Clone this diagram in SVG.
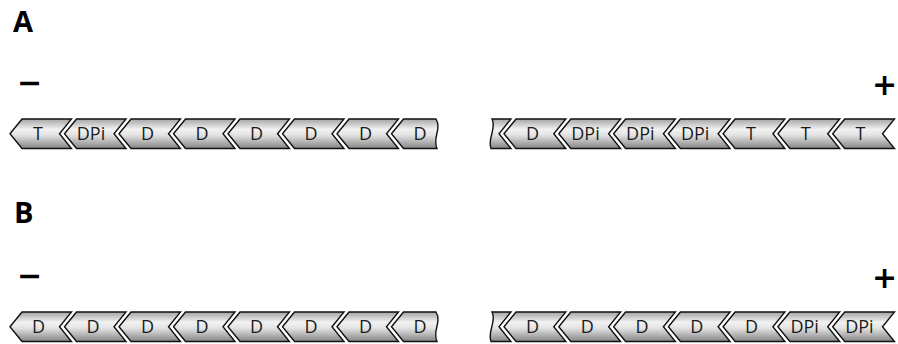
<svg xmlns="http://www.w3.org/2000/svg" width="898" height="344" viewBox="0 0 898 344">
<defs>
<linearGradient id="g" x1="0" y1="0" x2="0" y2="1">
<stop offset="0" stop-color="#a4a4a4"/>
<stop offset="0.35" stop-color="#f2f2f2"/>
<stop offset="0.55" stop-color="#e2e2e2"/>
<stop offset="1" stop-color="#858585"/>
</linearGradient>
</defs>
<style>
.s{fill:url(#g);stroke:#111;stroke-width:1.4;stroke-linejoin:miter}
.l{font-family:"Open Sans","Liberation Sans",sans-serif;font-size:18px;fill:#1a1a1a;text-anchor:middle}
.h{font-family:"Open Sans","Liberation Sans",sans-serif;font-weight:bold;font-size:29px;fill:#000}
.pm{font-family:"DejaVu Sans","Liberation Sans",sans-serif;font-weight:bold;font-size:30px;fill:#000;text-anchor:middle}
</style>
<g id="labels">
<text class="h" x="13" y="32">A</text>
<text class="h" x="14" y="223">B</text>
<text class="pm" x="29.5" y="93">−</text>
<text class="pm" x="884.5" y="95">+</text>
<text class="pm" x="29.5" y="286">−</text>
<text class="pm" x="884.5" y="288">+</text>
</g>
<g id="A-left">
<g id="a1"><path class="s" d="M10,133.75 L22,119 L71.5,119 L59.5,133.75 L71.5,148.5 L22,148.5 Z"/><text class="l" x="38" y="140.2">T</text></g>
<g id="a2"><path class="s" d="M64.5,133.75 L76.5,119 L126,119 L114,133.75 L126,148.5 L76.5,148.5 Z"/><text class="l" x="91" y="140.2">DPi</text></g>
<g id="a3"><path class="s" d="M119,133.75 L131,119 L180.5,119 L168.5,133.75 L180.5,148.5 L131,148.5 Z"/><text class="l" x="147.5" y="140.2">D</text></g>
<g id="a4"><path class="s" d="M173.5,133.75 L185.5,119 L235,119 L223,133.75 L235,148.5 L185.5,148.5 Z"/><text class="l" x="202" y="140.2">D</text></g>
<g id="a5"><path class="s" d="M228,133.75 L240,119 L289.5,119 L277.5,133.75 L289.5,148.5 L240,148.5 Z"/><text class="l" x="256.5" y="140.2">D</text></g>
<g id="a6"><path class="s" d="M282.5,133.75 L294.5,119 L344,119 L332,133.75 L344,148.5 L294.5,148.5 Z"/><text class="l" x="311" y="140.2">D</text></g>
<g id="a7"><path class="s" d="M337,133.75 L349,119 L398.5,119 L386.5,133.75 L398.5,148.5 L349,148.5 Z"/><text class="l" x="365.5" y="140.2">D</text></g>
<g id="a8"><path class="s" d="M391.5,133.75 L403.5,119 L436,119 C442,129 432,138 437,148.5 L403.5,148.5 Z"/><text class="l" x="420" y="140.2">D</text></g>
</g>
<g id="A-right">
<g id="a9"><path class="s" d="M492,119 L511,119 L499,133.75 L511,148.5 L491,148.5 C487,138 497,129 492,119 Z"/></g>
<g id="a10"><path class="s" d="M504,133.75 L516,119 L565.8,119 L553.8,133.75 L565.8,148.5 L516,148.5 Z"/><text class="l" x="532.5" y="140.2">D</text></g>
<g id="a11"><path class="s" d="M558.8,133.75 L570.8,119 L620.6,119 L608.6,133.75 L620.6,148.5 L570.8,148.5 Z"/><text class="l" x="585.5" y="140.2">DPi</text></g>
<g id="a12"><path class="s" d="M613.6,133.75 L625.6,119 L675.4,119 L663.4,133.75 L675.4,148.5 L625.6,148.5 Z"/><text class="l" x="640.3" y="140.2">DPi</text></g>
<g id="a13"><path class="s" d="M668.4,133.75 L680.4,119 L730.1,119 L718.1,133.75 L730.1,148.5 L680.4,148.5 Z"/><text class="l" x="695.1" y="140.2">DPi</text></g>
<g id="a14"><path class="s" d="M723.1,133.75 L735.1,119 L784.9,119 L772.9,133.75 L784.9,148.5 L735.1,148.5 Z"/><text class="l" x="751" y="140.2">T</text></g>
<g id="a15"><path class="s" d="M777.9,133.75 L789.9,119 L839.7,119 L827.7,133.75 L839.7,148.5 L789.9,148.5 Z"/><text class="l" x="805.8" y="140.2">T</text></g>
<g id="a16"><path class="s" d="M832.7,133.75 L844.7,119 L894.5,119 L882.5,133.75 L894.5,148.5 L844.7,148.5 Z"/><text class="l" x="860.5" y="140.2">T</text></g>
</g>
<g id="B-left">
<g id="b1"><path class="s" d="M10,326.75 L22,312 L71.5,312 L59.5,326.75 L71.5,341.5 L22,341.5 Z"/><text class="l" x="38.5" y="333.2">D</text></g>
<g id="b2"><path class="s" d="M64.5,326.75 L76.5,312 L126,312 L114,326.75 L126,341.5 L76.5,341.5 Z"/><text class="l" x="93" y="333.2">D</text></g>
<g id="b3"><path class="s" d="M119,326.75 L131,312 L180.5,312 L168.5,326.75 L180.5,341.5 L131,341.5 Z"/><text class="l" x="147.5" y="333.2">D</text></g>
<g id="b4"><path class="s" d="M173.5,326.75 L185.5,312 L235,312 L223,326.75 L235,341.5 L185.5,341.5 Z"/><text class="l" x="202" y="333.2">D</text></g>
<g id="b5"><path class="s" d="M228,326.75 L240,312 L289.5,312 L277.5,326.75 L289.5,341.5 L240,341.5 Z"/><text class="l" x="256.5" y="333.2">D</text></g>
<g id="b6"><path class="s" d="M282.5,326.75 L294.5,312 L344,312 L332,326.75 L344,341.5 L294.5,341.5 Z"/><text class="l" x="311" y="333.2">D</text></g>
<g id="b7"><path class="s" d="M337,326.75 L349,312 L398.5,312 L386.5,326.75 L398.5,341.5 L349,341.5 Z"/><text class="l" x="365.5" y="333.2">D</text></g>
<g id="b8"><path class="s" d="M391.5,326.75 L403.5,312 L436,312 C442,322 432,331 437,341.5 L403.5,341.5 Z"/><text class="l" x="420" y="333.2">D</text></g>
</g>
<g id="B-right">
<g id="b9"><path class="s" d="M492,312 L511,312 L499,326.75 L511,341.5 L491,341.5 C487,331 497,322 492,312 Z"/></g>
<g id="b10"><path class="s" d="M504,326.75 L516,312 L565.8,312 L553.8,326.75 L565.8,341.5 L516,341.5 Z"/><text class="l" x="532.5" y="333.2">D</text></g>
<g id="b11"><path class="s" d="M558.8,326.75 L570.8,312 L620.6,312 L608.6,326.75 L620.6,341.5 L570.8,341.5 Z"/><text class="l" x="587.3" y="333.2">D</text></g>
<g id="b12"><path class="s" d="M613.6,326.75 L625.6,312 L675.4,312 L663.4,326.75 L675.4,341.5 L625.6,341.5 Z"/><text class="l" x="642.1" y="333.2">D</text></g>
<g id="b13"><path class="s" d="M668.4,326.75 L680.4,312 L730.1,312 L718.1,326.75 L730.1,341.5 L680.4,341.5 Z"/><text class="l" x="696.9" y="333.2">D</text></g>
<g id="b14"><path class="s" d="M723.1,326.75 L735.1,312 L784.9,312 L772.9,326.75 L784.9,341.5 L735.1,341.5 Z"/><text class="l" x="751.6" y="333.2">D</text></g>
<g id="b15"><path class="s" d="M777.9,326.75 L789.9,312 L839.7,312 L827.7,326.75 L839.7,341.5 L789.9,341.5 Z"/><text class="l" x="804.6" y="333.2">DPi</text></g>
<g id="b16"><path class="s" d="M832.7,326.75 L844.7,312 L894.5,312 L882.5,326.75 L894.5,341.5 L844.7,341.5 Z"/><text class="l" x="859.4" y="333.2">DPi</text></g>
</g>
<g id="connectors"/>
</svg>
